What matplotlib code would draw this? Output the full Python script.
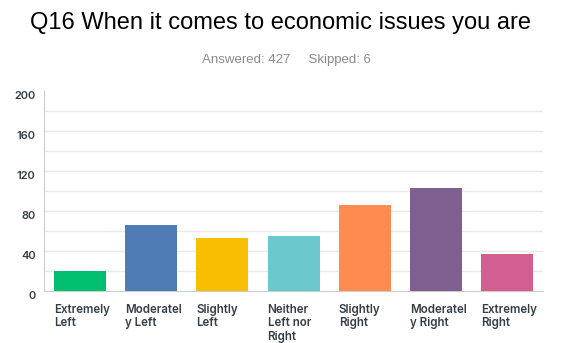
import matplotlib
matplotlib.use("Agg")
import matplotlib.pyplot as plt
import numpy as np

# Survey results for Q16
categories = [
    "Extremely\nLeft", "Moderatel\ny Left", "Slightly\nLeft",
    "Neither\nLeft nor\nRight", "Slightly\nRight", "Moderatel\ny Right",
    "Extremely\nRight",
]
counts = [20, 66, 53, 55, 86, 103, 37]
colors = ["#00BF6F", "#507CB6", "#F9BE00", "#6BC8CD", "#FF8B4F", "#7F5F90", "#D25F90"]
y_ticks = [0, 40, 80, 120, 160, 200]
grid_levels = [20, 40, 60, 80, 100, 120, 140, 160, 180]

TITLE = "Q16 When it comes to economic issues you are"
SUBTITLE = "Answered: 427     Skipped: 6"

LABEL_FONT = ["Inter", "DejaVu Sans"]
TEXT_DARK = "#333e48"

fig = plt.figure(figsize=(5.62, 3.43), dpi=100)
ax = fig.add_axes([0.0783, 0.1516, 0.888, 0.5831])

x = np.arange(len(categories))
width = 0.73
ax.bar(x, counts, width=width, color=colors, zorder=3)

for v in grid_levels:
    ax.axhline(v, color="#e9e9e9", linewidth=1, zorder=1)

ax.set_xlim(-0.5, len(categories) - 0.5)
ax.set_ylim(0, 200)

ax.set_yticks(y_ticks)
ax.set_yticklabels([str(t) for t in y_ticks], family=LABEL_FONT,
                   fontweight="semibold", fontsize=8, color=TEXT_DARK)
plt.setp(ax.get_yticklabels(), va="top")
ax.tick_params(axis="y", length=0, pad=6)

# category labels sit left-aligned under each bar's left edge
ax.set_xticks(x - width / 2)
ax.set_xticklabels(categories, family=LABEL_FONT, fontweight="semibold",
                   fontsize=8.3, color=TEXT_DARK, ha="left", linespacing=1.17)
ax.tick_params(axis="x", length=0, pad=9)

for side in ["top", "right"]:
    ax.spines[side].set_visible(False)
ax.spines["left"].set_color("#cccccc")
ax.spines["bottom"].set_color("#cccccc")

fig.text(0.5, 0.934, TITLE, ha="center", va="center",
         family="Liberation Sans", fontsize=17, color="#000000")
fig.text(0.51, 0.824, SUBTITLE, ha="center", va="center",
         family="Liberation Sans", fontsize=9.5, color="#8a8a8a")

fig.savefig("out.png", dpi=100, facecolor="white")
